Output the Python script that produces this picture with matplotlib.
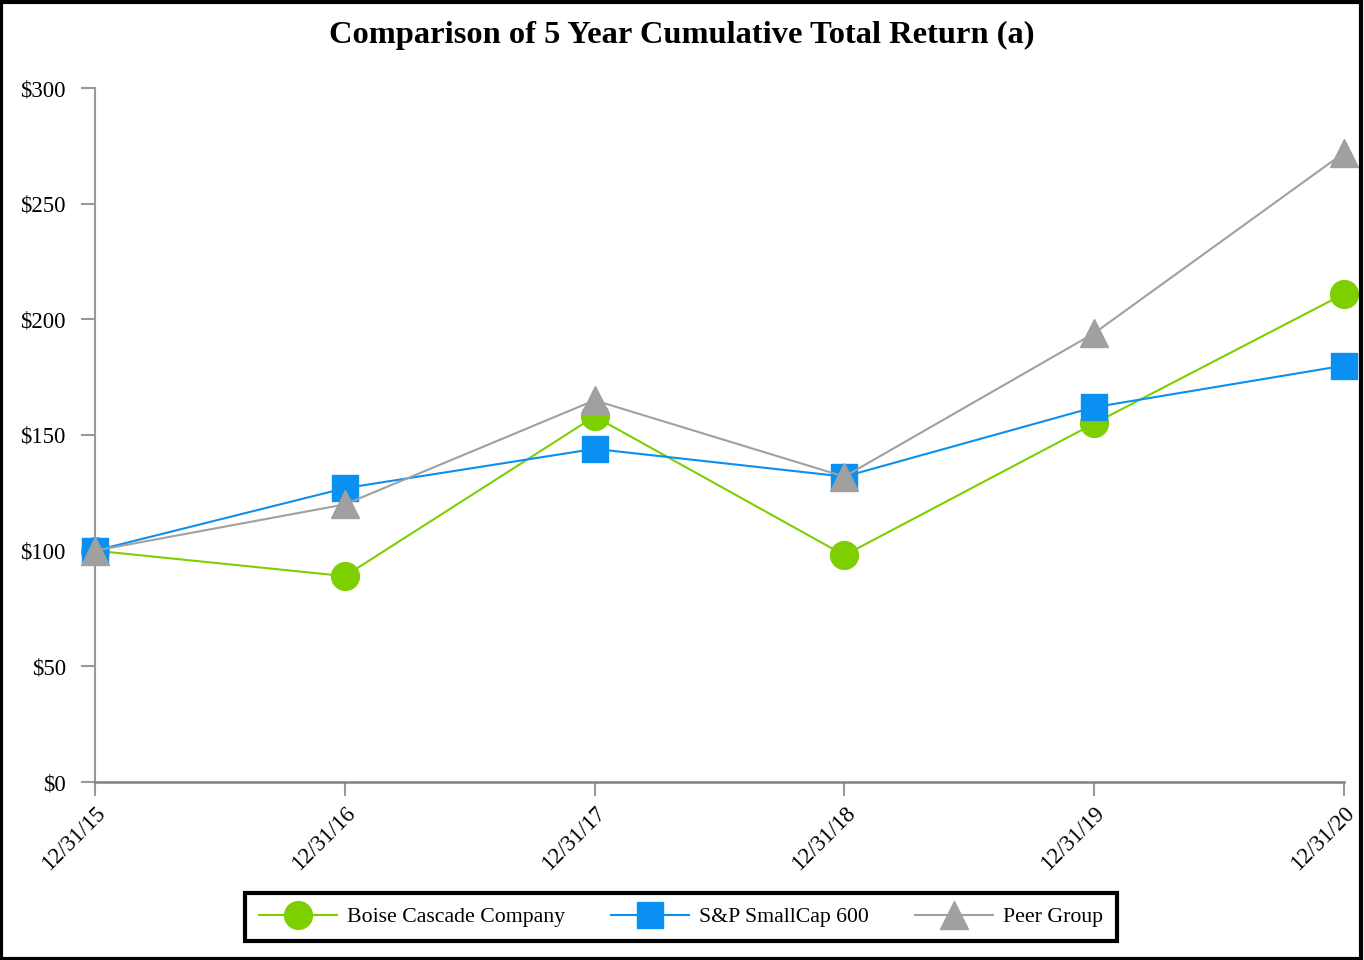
import matplotlib
matplotlib.use("Agg")
import matplotlib.pyplot as plt
from matplotlib.patches import Rectangle

dates = ["12/31/15", "12/31/16", "12/31/17", "12/31/18", "12/31/19", "12/31/20"]
boise = [100, 89, 158, 98, 155, 211]
sp600 = [100, 127, 144, 132, 162, 180]
peer = [100, 120, 165, 132, 194, 272]
yticks = [0, 50, 100, 150, 200, 250, 300]
ytick_labels = ["$0", "$50", "$100", "$150", "$200", "$250", "$300"]

plt.rcParams['font.family'] = ['Liberation Serif', 'DejaVu Serif']

fig = plt.figure(figsize=(13.64, 9.6), dpi=100)
ax = fig.add_axes([95/1364, 1-782/960, (1344-95)/1364, (782-88)/960])

x = list(range(len(dates)))
ax.plot(x, boise, color='#7DCF00', lw=1.5, marker='o', ms=20, clip_on=False, zorder=3, label='Boise Cascade Company')
ax.plot(x, sp600, color='#0A90F0', lw=1.5, marker='s', ms=19, clip_on=False, zorder=4, label='S&P SmallCap 600')
ax.plot(x, peer, color='#A0A0A0', lw=1.5, marker='^', ms=20, clip_on=False, zorder=5, label='Peer Group')

ax.set_xlim(0, 5)
ax.set_ylim(0, 300)
ax.set_xticks(x)
ax.set_xticklabels(dates, rotation=45, ha='right', va='top', rotation_mode='anchor', fontsize=16.5)
ax.set_yticks(yticks)
ax.set_yticklabels(ytick_labels, fontsize=16.5)
for s in ['top', 'right']:
    ax.spines[s].set_visible(False)
ax.spines['left'].set_color('#999999')
ax.spines['bottom'].set_color('#808080')
ax.spines['left'].set_linewidth(1.5)
ax.spines['bottom'].set_linewidth(1.8)
ax.tick_params(axis='both', direction='out', length=10, width=1.5, color='#999999')
ax.tick_params(axis='y', pad=11)
ax.tick_params(axis='x', pad=5)

fig.text(0.5, 1-35/960, "Comparison of 5 Year Cumulative Total Return (a)", ha='center', va='center',
         fontsize=23.4, fontweight='bold')

leg = fig.legend(loc='center', bbox_to_anchor=(681/1364, 1-917/960), ncol=3, fontsize=15.7,
                 frameon=True, fancybox=False, edgecolor='black', framealpha=1, handlelength=3.6,
                 columnspacing=2.1, borderpad=0.65, handletextpad=0.45)
leg.get_frame().set_linewidth(3)
for h in leg.legend_handles:
    h.set_markersize(20 if h.get_marker() != 's' else 19)

fig.patches.append(Rectangle((0.001, 0.001), 0.997, 0.997, transform=fig.transFigure,
                             fill=False, edgecolor='black', lw=3))

fig.savefig('out.png', dpi=100)
